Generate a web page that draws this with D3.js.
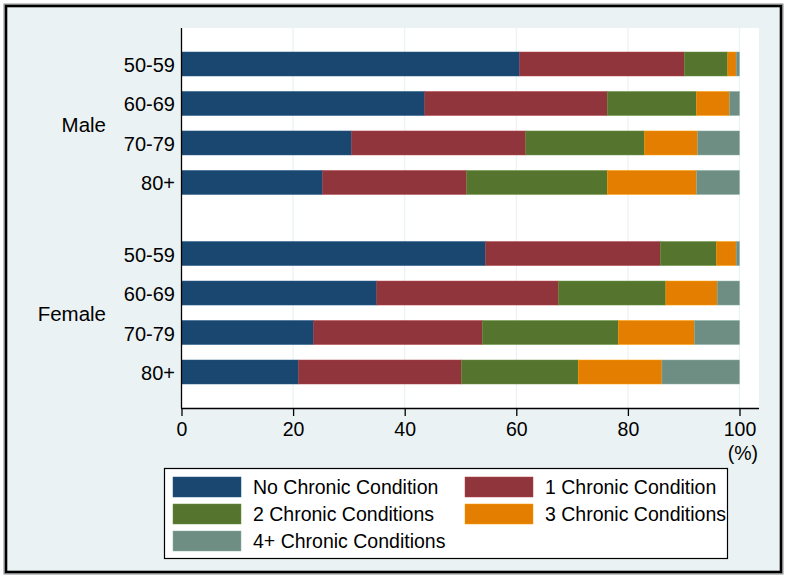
<!DOCTYPE html>
<html>
<head>
<meta charset="utf-8">
<script src="https://cdn.jsdelivr.net/npm/d3@7"></script>
<style>
  html, body { margin: 0; padding: 0; background: #ffffff; }
  svg { display: block; font-family: "Liberation Sans", Arial, Helvetica, sans-serif; }
</style>
</head>
<body>
<svg id="chart" width="788" height="578"></svg>
<script>
// ---- data ----
const groups = ["Male", "Female"];
const ageGroups = ["50-59", "60-69", "70-79", "80+"];
const seriesNames = ["No Chronic Condition", "1 Chronic Condition", "2 Chronic Conditions", "3 Chronic Conditions", "4+ Chronic Conditions"];
const seriesColors = ["#1a476f", "#90353b", "#55752f", "#e37e00", "#6e8e84"];
// percentages per row: [none, 1, 2, 3, 4+]
const maleValues = [
  [60.6, 29.5, 7.8, 1.5, 0.6],
  [43.6, 32.7, 16.0, 5.9, 1.8],
  [30.5, 31.2, 21.3, 9.5, 7.5],
  [25.3, 25.8, 25.2, 16.0, 7.7]
];
const femaleValues = [
  [54.5, 31.3, 10.1, 3.5, 0.6],
  [35.0, 32.6, 19.2, 9.2, 4.0],
  [23.7, 30.2, 24.4, 13.6, 8.1],
  [21.0, 29.2, 20.9, 15.0, 13.9]
];
const xTicks = [0, 20, 40, 60, 80, 100];

// ---- layout ----
const svg = d3.select("#chart");
const W = 788, H = 578;
const plot = { left: 181, right: 759, top: 28, bottom: 408 };
const groupGap = 1.8; // slots between groups (in units of one row step)

// outer background + border
svg.append("rect").attr("x", 0).attr("y", 0).attr("width", W).attr("height", H).attr("fill", "#ffffff");
svg.append("rect").attr("x", 4).attr("y", 4).attr("width", 779).attr("height", 570)
  .attr("fill", "#eaf2f3").attr("stroke", "#8a8a8a").attr("stroke-width", 1);
svg.append("rect").attr("x", 6).attr("y", 6).attr("width", 775).attr("height", 566)
  .attr("fill", "none").attr("stroke", "#000000").attr("stroke-width", 2.6);

// plot region
svg.append("rect").attr("x", plot.left).attr("y", plot.top)
  .attr("width", plot.right - plot.left).attr("height", plot.bottom - plot.top)
  .attr("fill", "#ffffff");

const x = d3.scaleLinear().domain([0, 100]).range([181.5, 739.5]);

// rows
const rows = [];
groups.forEach((g, gi) => {
  const vals = gi === 0 ? maleValues : femaleValues;
  ageGroups.forEach((a, ai) => {
    rows.push({ group: g, age: a, slot: gi * (ageGroups.length + groupGap - 1) + ai, values: vals[ai] });
  });
});
const lastSlot = d3.max(rows, r => r.slot);
const y = d3.scaleLinear().domain([0, lastSlot]).range([64, 372]);
const barH = 24;

// gridlines
svg.append("g").selectAll("line").data(xTicks.filter(t => t > 0)).join("line")
  .attr("x1", d => x(d)).attr("x2", d => x(d))
  .attr("y1", plot.top).attr("y2", plot.bottom)
  .attr("stroke", "#eaf2f3").attr("stroke-width", 1.2);

// stacked bars
const stack = rows.map(r => {
  let cum = 0;
  return r.values.map((v, i) => { const s = { row: r, i, x0: cum, x1: cum + v }; cum += v; return s; });
});
svg.append("g").selectAll("g").data(stack).join("g")
  .selectAll("rect").data(d => d).join("rect")
  .attr("x", d => x(d.x0))
  .attr("width", d => Math.max(0, x(d.x1) - x(d.x0)))
  .attr("y", d => y(d.row.slot) - barH / 2)
  .attr("height", barH)
  .attr("fill", d => seriesColors[d.i])
  .attr("stroke", d => d3.color(seriesColors[d.i]).brighter(0.6))
  .attr("stroke-width", 0.5);

// x axis
const xAxis = d3.axisBottom(x).tickValues(xTicks).tickSize(8).tickPadding(6).tickFormat(d3.format("d"));
const gx = svg.append("g").attr("transform", `translate(0,${plot.bottom})`).call(xAxis);
gx.select(".domain").attr("d", `M${plot.left},0.5H${plot.right}`).attr("stroke", "#000").attr("stroke-width", 1.3);
gx.selectAll(".tick line").attr("stroke", "#000").attr("stroke-width", 1.3);
gx.selectAll(".tick text").attr("font-size", 19.5).attr("fill", "#000").attr("font-family", "Liberation Sans, Arial, sans-serif");

svg.append("text").attr("x", 758).attr("y", 460).attr("text-anchor", "end")
  .attr("font-size", 19.5).attr("fill", "#000").text("(%)");

// left axis line
svg.append("line").attr("x1", plot.left + 0.5).attr("x2", plot.left + 0.5)
  .attr("y1", plot.top).attr("y2", plot.bottom + 0.5)
  .attr("stroke", "#000").attr("stroke-width", 1.3);

// row labels
svg.append("g").selectAll("text").data(rows).join("text")
  .attr("x", 175).attr("y", d => y(d.slot) + 1).attr("dy", "0.35em")
  .attr("text-anchor", "end").attr("font-size", 20).attr("fill", "#000")
  .text(d => d.age);

// group labels
groups.forEach((g, gi) => {
  const gr = rows.filter(r => r.group === g);
  const yc = (y(gr[0].slot) + y(gr[gr.length - 1].slot)) / 2 + 1.5;
  svg.append("text").attr("x", 106).attr("y", yc).attr("dy", "0.35em")
    .attr("text-anchor", "end").attr("font-size", 20.5).attr("fill", "#000").text(g);
});

// legend
const lg = svg.append("g");
lg.append("rect").attr("x", 164.5).attr("y", 468.5).attr("width", 563).attr("height", 90)
  .attr("fill", "#ffffff").attr("stroke", "#000").attr("stroke-width", 1.2);
const legendPos = [
  { sx: 173, ty: 487 }, { sx: 465, ty: 487 },
  { sx: 173, ty: 514 }, { sx: 465, ty: 514 },
  { sx: 173, ty: 541 }
];
seriesNames.forEach((name, i) => {
  const p = legendPos[i];
  lg.append("rect").attr("x", p.sx).attr("y", p.ty - 10).attr("width", 68).attr("height", 20)
    .attr("fill", seriesColors[i]).attr("stroke", d3.color(seriesColors[i]).brighter(0.6)).attr("stroke-width", 0.5);
  lg.append("text").attr("x", p.sx + 80).attr("y", p.ty + 0.5).attr("dy", "0.35em")
    .attr("font-size", 19.5).attr("fill", "#000").text(name);
});
</script>
</body>
</html>
